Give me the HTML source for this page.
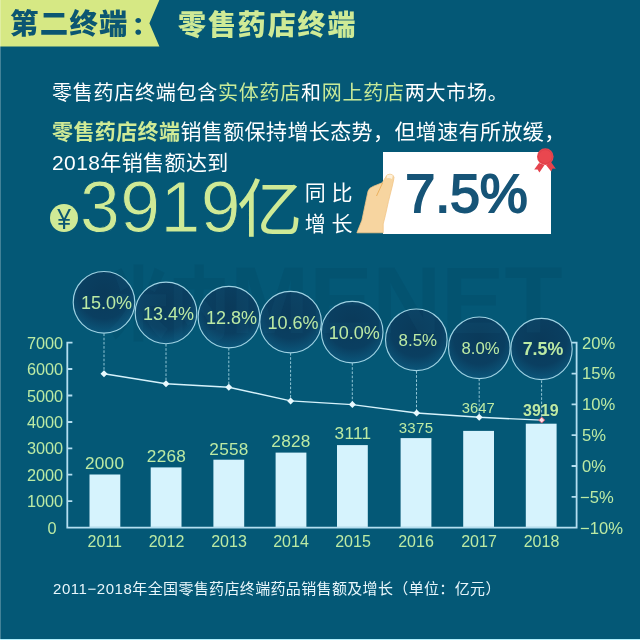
<!DOCTYPE html>
<html lang="zh-CN">
<head>
<meta charset="utf-8">
<title>第二终端：零售药店终端</title>
<style>
  html, body { margin: 0; padding: 0; }
  body { width: 640px; height: 640px; overflow: hidden; background: #045876; }
  #page {
    position: relative; width: 640px; height: 640px; overflow: hidden;
    background: #045876;
    font-family: "Liberation Sans", "Noto Sans CJK SC", sans-serif;
    color: #fff;
  }
  .abs { position: absolute; white-space: nowrap; line-height: 1; }
  .g { color: #c8ea98; }
  #band { left: 0; top: 0; width: 170px; height: 48px; }
  #h1a { left: 10px; top: 10.2px; font-size: 28.4px; font-weight: 900; color: #0b5672; letter-spacing: 1.3px; }
  #h1a span { margin-left: 2.5px; display: inline-block; transform: scale(0.95, 0.85); transform-origin: 28% 80%; }
  #h1b { left: 178px; top: 11.5px; font-size: 28px; font-weight: 900; color: #cfea96; letter-spacing: 1.9px; }
  #p1 { left: 52px; top: 82.5px; font-size: 20px; letter-spacing: 0.75px; }
  #p2 { left: 52px; top: 121px; font-size: 21px; letter-spacing: 0.4px; }
  #p2 b { color: #cfea96; }
  #p3 { left: 52px; top: 151.5px; font-size: 21px; letter-spacing: 0.4px; }
  #yen { left: 50px; top: 204px; width: 28px; height: 28px; border-radius: 50%; background: #cfea96; }
  #yen span { position: absolute; left: 0; width: 28px; top: 1.2px; text-align: center; font-size: 28px; color: #0b5672; line-height: 28px; transform: scale(0.88, 1.04); transform-origin: 50% 22%; }
  #big { left: 80px; top: 171.5px; font-size: 71.5px; color: #cfea96; -webkit-text-stroke: 0.9px #045876; letter-spacing: 0.5px; }
  #yi { left: 237px; top: 177.5px; font-size: 63px; color: #cfea96; font-weight: 400; transform: scaleX(1.04); transform-origin: 0 0; }
  #tb { left: 304.8px; top: 177px; font-size: 21px; line-height: 31px; letter-spacing: 5.6px; white-space: pre; }
  #card { left: 383px; top: 152px; width: 167.5px; height: 82.3px; background: #fff; }
  #pct { left: 382.5px; top: 166px; width: 168px; text-align: center; font-size: 54px; color: #165477; -webkit-text-stroke: 1.8px #165477; letter-spacing: -0.2px; }
  #wm { left: 108px; top: 253px; font-size: 95px; font-weight: bold; color: rgba(3,40,60,0.085); letter-spacing: 0; }
  #wm span { display: inline-block; font-size: 80px; font-weight: 900; transform: scaleX(0.76); transform-origin: 0 50%; margin-right: -38px; }
  #cap { left: 53px; top: 580.5px; font-size: 15px; color: #e8f6fb; letter-spacing: 0.35px; }
  #cap span { letter-spacing: 0.55px; }
  svg text { font-family: "Liberation Sans", "Noto Sans CJK SC", sans-serif; }
</style>
</head>
<body>
<div id="page">

  <!-- header -->
  <svg class="abs" id="band" width="170" height="48" viewBox="0 0 170 48">
    <polygon points="0,0 159.4,0 149.4,23.3 159.4,46.5 0,46.5" fill="#d6e884"/>
  </svg>
  <div class="abs" id="h1a">第二终端<span>：</span></div>
  <div class="abs" id="h1b">零售药店终端</div>

  <!-- paragraphs -->
  <div class="abs" id="p1">零售药店终端包含<span class="g">实体药店</span>和<span class="g">网上药店</span>两大市场。</div>
  <div class="abs" id="p2"><b>零售药店终端</b>销售额保持增长态势，但增速有所放缓，</div>
  <div class="abs" id="p3">2018年销售额达到</div>

  <!-- big number -->
  <div class="abs" id="yen"><span>¥</span></div>
  <div class="abs" id="big">3919</div>
  <div class="abs" id="yi">亿</div>
  <div class="abs" id="tb">同比
增长</div>

  <!-- card -->
  <div class="abs" id="card"></div>
  <div class="abs" id="pct">7.5%</div>
  <svg class="abs" id="deco" style="left:340px;top:140px" width="240" height="110" viewBox="340 140 240 110">
    <!-- hand -->
    <path d="M356.9,232.8 L361.9,220.3 L365.8,201.6 L368.1,191 Q369,188 373.6,186.2 L382.2,182.8 L386.9,175.2 Q390,172.8 393.2,175.5 Q394.6,177 393.6,180 L392.3,186 L388.4,201.6 L385.3,215.6 L383.2,224 L383.2,232.8 Z" fill="#f7d5a0" stroke="#f1c588" stroke-width="0.8"/>
    <path d="M382.5,183 L376.5,196" stroke="#e9ac56" stroke-width="0.9" fill="none"/>
    <path d="M387.2,175.3 Q390,173.4 392.8,175.6 L392,179 Q389.6,177.6 386.6,178.2 Z" fill="#fdf1dc"/>
    <!-- ribbon -->
    <polygon points="539,163 534.2,169.6 537.6,169.4 539.4,172.6 544.5,165" fill="#e5434d"/>
    <polygon points="546,165 551.2,171.6 552.6,168.6 555.8,168.8 551,162" fill="#e5434d"/>
    <circle cx="545.3" cy="156.6" r="8.3" fill="#e9474f"/>
    <circle cx="545.3" cy="156.6" r="6.9" fill="none" stroke="#d83c48" stroke-width="0.7"/>
  </svg>

  <!-- watermark -->
  <div class="abs" id="wm"><span>米内</span>MENET</div>

  <!-- chart -->
  <svg class="abs" id="chart" style="left:0;top:250px" width="640" height="320" viewBox="0 250 640 320">
    <defs>
      <radialGradient id="bub" cx="50%" cy="36%" r="66%">
        <stop offset="0" stop-color="#0a3a5a"/>
        <stop offset="0.62" stop-color="#0a3f61"/>
        <stop offset="1" stop-color="#0b587c"/>
      </radialGradient>
      <clipPath id="bubclip">
        <circle cx="104" cy="302.3" r="30.3"/>
        <circle cx="166" cy="312.9" r="30.3"/>
        <circle cx="228.9" cy="317.1" r="30.3"/>
        <circle cx="290.6" cy="322.1" r="30.3"/>
        <circle cx="352.2" cy="332.1" r="30.3"/>
        <circle cx="416.3" cy="339.8" r="30.3"/>
        <circle cx="479.3" cy="347.8" r="30.3"/>
        <circle cx="541.5" cy="349" r="30.2"/>
      </clipPath>
    </defs>

    <!-- axes -->
    <g stroke="#b4def0" stroke-width="1.8" fill="none">
      <path d="M72.5,342.6 H67.3 V527.6 H576.6 V342.6 H571.5"/>
      <path d="M67.3,369 h5 M67.3,395.5 h5 M67.3,422 h5 M67.3,448.3 h5 M67.3,474.7 h5 M67.3,501.2 h5"/>
      <path d="M576.6,373.6 h-5 M576.6,404.4 h-5 M576.6,435.2 h-5 M576.6,466 h-5 M576.6,496.8 h-5"/>
    </g>

    <!-- y labels -->
    <g fill="#bceaa4" font-size="16.3" text-anchor="end">
      <text x="63.2" y="348.5">7000</text>
      <text x="63.2" y="375">6000</text>
      <text x="63.2" y="401.5">5000</text>
      <text x="63.2" y="428">4000</text>
      <text x="63.2" y="454.3">3000</text>
      <text x="63.2" y="480.7">2000</text>
      <text x="63.2" y="507.2">1000</text>
      <text x="56.5" y="533.6">0</text>
    </g>
    <g fill="#bceaa4" font-size="16.6" text-anchor="start">
      <text x="582" y="348.5">20%</text>
      <text x="582" y="379.4">15%</text>
      <text x="582" y="410.2">10%</text>
      <text x="582" y="441">5%</text>
      <text x="582" y="471.8">0%</text>
      <text x="580" y="502.6">−5%</text>
      <text x="580" y="533.6">−10%</text>
    </g>

    <!-- bars -->
    <g fill="#d6f3fd">
      <rect x="89.5" y="474.5" width="30.8" height="52.4"/>
      <rect x="150.7" y="467.4" width="30.8" height="59.5"/>
      <rect x="213.4" y="459.7" width="30.8" height="67.2"/>
      <rect x="275.6" y="452.6" width="30.8" height="74.3"/>
      <rect x="337" y="445.1" width="30.8" height="81.8"/>
      <rect x="400.6" y="438.1" width="30.8" height="88.8"/>
      <rect x="463.2" y="430.9" width="30.8" height="96"/>
      <rect x="525.8" y="423.7" width="30.8" height="103.2"/>
    </g>

    <!-- bar labels -->
    <g fill="#bceaa4" font-size="17.2" text-anchor="middle" letter-spacing="0.3">
      <text x="104.6" y="469">2000</text>
      <text x="166.5" y="462">2268</text>
      <text x="229" y="454.5">2558</text>
      <text x="291" y="447">2828</text>
      <text x="353" y="438.5">3111</text>
      <text x="416" y="433" font-size="15">3375</text>
      <text x="478.3" y="413.3" font-size="14.8" letter-spacing="0">3647</text>
      <text x="540.8" y="416.2" font-size="16" font-weight="bold" stroke="#0a4f6e" stroke-width="1.8" paint-order="stroke fill" stroke-linejoin="round" letter-spacing="0">3919</text>
    </g>

    <!-- dashed connectors -->
    <g stroke="#b4dfec" stroke-width="0.8" stroke-dasharray="2.6 1.6" fill="none">
      <path d="M104,333.5 V371"/>
      <path d="M166,344 V381"/>
      <path d="M228.8,348 V384"/>
      <path d="M290.6,353 V398"/>
      <path d="M352.3,363 V402"/>
      <path d="M416.5,371 V411"/>
      <path d="M479.2,378.5 V415"/>
      <path d="M541.6,380.5 V417"/>
    </g>

    <!-- line -->
    <polyline points="104,373.8 166,383.7 228.8,387.2 290.6,400.9 352.4,404.6 416.6,413 479.2,417.3 541.7,420.1" fill="none" stroke="#d6f2fb" stroke-width="1.4"/>
    <g fill="#e8f9fe">
      <path d="M104,370.3 l3.5,3.5 -3.5,3.5 -3.5,-3.5z"/>
      <path d="M166,380.2 l3.5,3.5 -3.5,3.5 -3.5,-3.5z"/>
      <path d="M228.8,383.7 l3.5,3.5 -3.5,3.5 -3.5,-3.5z"/>
      <path d="M290.6,397.4 l3.5,3.5 -3.5,3.5 -3.5,-3.5z"/>
      <path d="M352.4,401.1 l3.5,3.5 -3.5,3.5 -3.5,-3.5z"/>
      <path d="M416.6,409.5 l3.5,3.5 -3.5,3.5 -3.5,-3.5z"/>
      <path d="M479.2,413.8 l3.5,3.5 -3.5,3.5 -3.5,-3.5z"/>
    </g>
    <path d="M541.7,417.1 l3,3 -3,3 -3,-3z" fill="#fde0e6" stroke="#e2506a" stroke-width="0.9"/>

    <!-- bubbles -->
    <g fill="url(#bub)" stroke="#9fd2e3" stroke-width="1.15">
      <circle cx="104" cy="302.3" r="30.8"/>
      <circle cx="166" cy="312.9" r="30.8"/>
      <circle cx="228.9" cy="317.1" r="30.8"/>
      <circle cx="290.6" cy="322.1" r="30.8"/>
      <circle cx="352.2" cy="332.1" r="30.8"/>
      <circle cx="416.3" cy="339.8" r="30.8"/>
      <circle cx="479.3" cy="347.8" r="30.8"/>
      <circle cx="541.5" cy="349" r="30.7"/>
    </g>
    <!-- watermark showing through bubbles -->
    <g clip-path="url(#bubclip)" fill="rgba(40,125,165,0.08)" font-weight="bold">
      <text x="0" y="333" font-size="80" font-weight="900" transform="translate(108,0) scale(0.76,1)">米内</text>
      <text x="230" y="333" font-size="95">MENET</text>
    </g>
    <g fill="#bceaa4" font-size="18" text-anchor="middle">
      <text x="106.5" y="309">15.0%</text>
      <text x="168.5" y="319.6">13.4%</text>
      <text x="231.4" y="323.8">12.8%</text>
      <text x="293.1" y="328.8">10.6%</text>
      <text x="354.3" y="338.8">10.0%</text>
      <text x="417.8" y="346.2" font-size="16.9">8.5%</text>
      <text x="480.6" y="354.2" font-size="16.7">8.0%</text>
      <text x="543" y="355.4" font-weight="bold" font-size="17.8">7.5%</text>
    </g>

    <!-- x labels -->
    <g fill="#bceaa4" font-size="16" text-anchor="middle">
      <text x="104.8" y="547">2011</text>
      <text x="166.5" y="547">2012</text>
      <text x="229" y="547">2013</text>
      <text x="291" y="547">2014</text>
      <text x="353" y="547">2015</text>
      <text x="416" y="547">2016</text>
      <text x="479" y="547">2017</text>
      <text x="541.5" y="547">2018</text>
    </g>
  </svg>

  <div class="abs" id="cap"><span>2011−2018</span>年全国零售药店终端药品销售额及增长（单位：亿元）</div>

  <!-- edges -->
  <div class="abs" style="left:0;top:638.8px;width:640px;height:1.2px;background:#b4f0fc"></div>
  <div class="abs" style="left:0;top:0;width:1px;height:640px;background:rgba(255,255,255,0.25)"></div>
</div>
</body>
</html>
